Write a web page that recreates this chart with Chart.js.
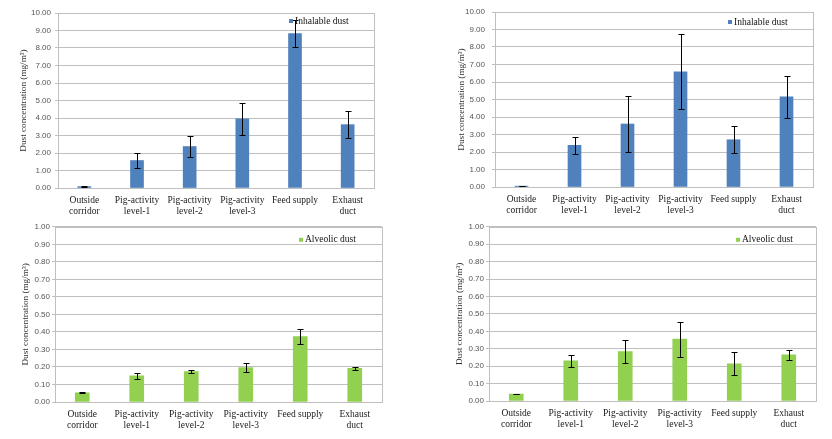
<!DOCTYPE html>
<html>
<head>
<meta charset="utf-8">
<script src="https://cdn.jsdelivr.net/npm/chart.js@4.4.1/dist/chart.umd.min.js"></script>
<style>
  html, body { margin: 0; padding: 0; background: #fff; }
  #wrap { position: relative; width: 832px; height: 439px; }
  .panel { position: absolute; width: 416px; }
  .panel canvas { display: block; }
</style>
</head>
<body>
<div id="wrap">
  <div class="panel" style="left:0;top:0;height:220px"><canvas id="tl" width="416" height="220"></canvas></div>
  <div class="panel" style="left:416px;top:0;height:220px"><canvas id="tr" width="416" height="220"></canvas></div>
  <div class="panel" style="left:0;top:220px;height:219px"><canvas id="bl" width="416" height="219"></canvas></div>
  <div class="panel" style="left:416px;top:220px;height:219px"><canvas id="br" width="416" height="219"></canvas></div>
</div>
<script>
// Дані
const categories = [
    ['Outside', 'corridor'],
    ['Pig-activity', 'level-1'],
    ['Pig-activity', 'level-2'],
    ['Pig-activity', 'level-3'],
    ['Feed supply'],
    ['Exhaust', 'duct']
];
const inhalableA    = [0.08, 1.57, 2.37, 3.95, 8.82, 3.62];
const inhalableAErr = [0.03, 0.43, 0.62, 0.93, 0.76, 0.78];
const inhalableB    = [0.05, 2.38, 3.60, 6.58, 2.70, 5.15];
const inhalableBErr = [0.02, 0.50, 1.61, 2.14, 0.78, 1.20];
const alveolicA     = [0.053, 0.150, 0.173, 0.197, 0.374, 0.192];
const alveolicAErr  = [0.004, 0.017, 0.008, 0.023, 0.043, 0.008];
const alveolicB     = [0.040, 0.231, 0.284, 0.355, 0.214, 0.265];
const alveolicBErr  = [0.002, 0.034, 0.064, 0.100, 0.066, 0.029];

const BLUE = '#4f81bd';
const GREEN = '#92d050';
const GRID = '#bfbfbf';
const SERIF = '"Liberation Serif", "Times New Roman", serif';
const SANS = '"Liberation Sans", Arial, sans-serif';

// Похибки + рамка області побудови + легенда всередині
const extras = {
    id: 'extras',
    afterDatasetsDraw(chart, args, opts) {
        const { ctx, chartArea: a, scales: { y } } = chart;
        const ds = chart.data.datasets[0];
        const meta = chart.getDatasetMeta(0);
        ctx.save();
        ctx.strokeStyle = GRID;
        ctx.lineWidth = 1;
        ctx.strokeRect(Math.round(a.left) + 0.5, Math.round(a.top) + 0.5,
            Math.round(a.right - a.left), Math.round(a.bottom - a.top));
        ctx.strokeStyle = '#000';
        meta.data.forEach((bar, i) => {
            const v = ds.data[i], e = opts.errors[i];
            const x = Math.round(bar.x) + 0.5;
            const yt = Math.round(y.getPixelForValue(v + e)) + 0.5;
            const yb = Math.round(y.getPixelForValue(v - e)) + 0.5;
            ctx.beginPath();
            ctx.moveTo(x, yt); ctx.lineTo(x, yb);
            ctx.moveTo(x - 3, yt); ctx.lineTo(x + 3, yt);
            ctx.moveTo(x - 3, yb); ctx.lineTo(x + 3, yb);
            ctx.stroke();
        });
        // легенда
        const lx = a.right - opts.legendDx, ly = a.top + opts.legendDy;
        ctx.fillStyle = ds.backgroundColor;
        ctx.fillRect(lx - 2, ly - 2, 4, 4);
        ctx.fillStyle = '#111';
        ctx.font = '9.5px ' + SERIF;
        ctx.textBaseline = 'middle';
        ctx.fillText(ds.label, lx + 4, ly);
        ctx.restore();
    }
};

function makeChart(id, cfg) {
    return new Chart(document.getElementById(id), {
        type: 'bar',
        data: {
            labels: categories,
            datasets: [{
                label: cfg.label,
                data: cfg.data,
                backgroundColor: cfg.color,
                barThickness: cfg.barW,
                borderWidth: 0
            }]
        },
        options: {
            responsive: false,
            animation: false,
            layout: { padding: cfg.pad },
            scales: {
                x: {
                    grid: { display: false, drawTicks: false },
                    border: { color: GRID },
                    ticks: {
                        color: '#1a1a1a',
                        padding: 7,
                        maxRotation: 0,
                        autoSkip: false,
                        font: { family: SERIF, size: 9.5, lineHeight: 1.15 }
                    },
                    afterFit(s) { s.height = cfg.xH; }
                },
                y: {
                    min: 0,
                    max: cfg.max,
                    grid: { color: GRID, tickLength: 3, drawTicks: true,
                        borderDash: cfg.dash },
                    border: { color: GRID, dash: [] },
                    ticks: {
                        stepSize: cfg.step,
                        color: '#555',
                        padding: cfg.tickPad,
                        font: { family: SANS, size: 8 },
                        callback: v => Number(v).toFixed(2)
                    },
                    title: {
                        display: true,
                        text: 'Dust concentration (mg/m³)',
                        color: '#333',
                        padding: { top: 0, bottom: 0 },
                        font: { family: SERIF, size: 9.2 }
                    },
                    afterFit(s) { s.width = cfg.yW; }
                }
            },
            plugins: {
                legend: { display: false },
                tooltip: { enabled: false },
                extras: { errors: cfg.errors, legendDx: cfg.legendDx, legendDy: cfg.legendDy }
            }
        },
        plugins: [extras]
    });
}

makeChart('tl', {
    label: 'Inhalable dust', data: inhalableA, errors: inhalableAErr, color: BLUE,
    max: 10, step: 1, dash: [], barW: 13,
    pad: { left: 18, top: 13, right: 42, bottom: 0 }, yW: 40, xH: 32, tickPad: 4,
    legendDx: 83, legendDy: 8
});
makeChart('tr', {
    label: 'Inhalable dust', data: inhalableB, errors: inhalableBErr, color: BLUE,
    max: 10, step: 1, dash: [], barW: 13,
    pad: { left: 40, top: 12, right: 19, bottom: 0 }, yW: 39, xH: 33, tickPad: 7,
    legendDx: 83, legendDy: 10
});
makeChart('bl', {
    label: 'Alveolic dust', data: alveolicA, errors: alveolicAErr, color: GREEN,
    max: 1, step: 0.1, dash: [2, 1], barW: 14,
    pad: { left: 20, top: 6, right: 34, bottom: 0 }, yW: 35, xH: 37, tickPad: 2,
    legendDx: 81, legendDy: 13
});
makeChart('br', {
    label: 'Alveolic dust', data: alveolicB, errors: alveolicBErr, color: GREEN,
    max: 1, step: 0.1, dash: [2, 1], barW: 14,
    pad: { left: 38, top: 6, right: 16, bottom: 0 }, yW: 35, xH: 38, tickPad: 2,
    legendDx: 78, legendDy: 13
});
</script>
</body>
</html>
